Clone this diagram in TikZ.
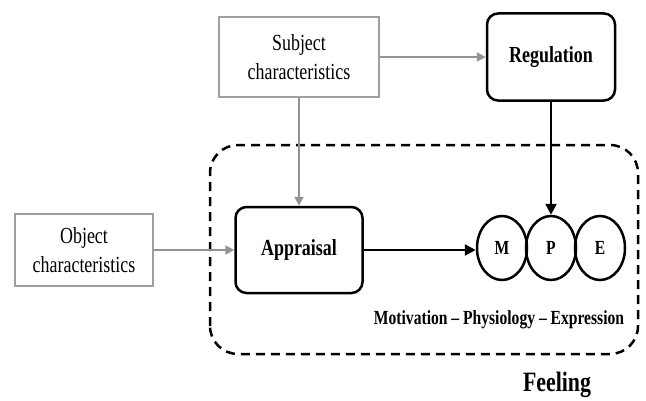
\documentclass[tikz,border=0pt]{standalone}
\usepackage{fontspec}
\setmainfont{Liberation Serif}[FakeStretch=0.78]
\usepackage{tikz}
\usetikzlibrary{shapes.geometric, arrows.meta, positioning, calc}

\begin{document}
\begin{tikzpicture}[x=1pt, y=1pt,
  gbox/.style={rectangle, draw=gray!75, line width=1.5pt, align=center,
              inner sep=0pt, font=\fontsize{23}{29}\selectfont},
  rbox/.style={rectangle, rounded corners=11pt, draw, line width=2.5pt, align=center,
              inner sep=0pt, font=\fontsize{23}{29}\selectfont\bfseries},
  circ/.style={ellipse, draw, line width=2.5pt, minimum width=50pt, minimum height=64pt,
              inner sep=0pt, font=\fontsize{20}{24}\selectfont\bfseries},
  garr/.style={-{Triangle[length=9pt, width=9pt]}, draw=gray!85, fill=gray!85, line width=2pt},
  barr/.style={-{Triangle[length=11pt, width=11pt]}, line width=2.5pt},
  frame/.style={dash pattern=on 9pt off 6pt, line width=2.5pt, rounded corners=28pt}
]
\useasboundingbox (0,0) rectangle (646,400);
\draw[frame] (210,46) rectangle (638,255);
\node[gbox, minimum width=160pt, minimum height=80pt] (subj) at (299,343) {Subject\\characteristics};
\node[rbox, minimum width=128pt, minimum height=87pt] (reg) at (551,343) {Regulation};
\node[gbox, minimum width=138pt, minimum height=72pt] (obj) at (84,150) {Object\\characteristics};
\node[rbox, minimum width=127pt, minimum height=86pt] (appr) at (299,150) {Appraisal};
\node[circ] (m) at (502,152) {M};
\node[circ, right=-3.5pt of m] (p) {P};
\node[circ, right=-3.5pt of p] (e) {E};
\node[font=\fontsize{20}{24}\selectfont\bfseries] (mpe) at (499,80) {Motivation -- Physiology -- Expression};
\node[font=\fontsize{28}{32}\selectfont\bfseries, anchor=base] (feel) at (557,9) {Feeling};
\draw[garr] (subj.east) -- (reg.west);
\draw[garr] (subj.south) -- (appr.north);
\draw[garr] (obj.east) -- (obj.east -| appr.west);
\draw[barr] (appr.east) -- (appr.east -| m.west);
\draw[barr] (reg.south) -- (reg.south |- p.north);
\end{tikzpicture}
\end{document}
